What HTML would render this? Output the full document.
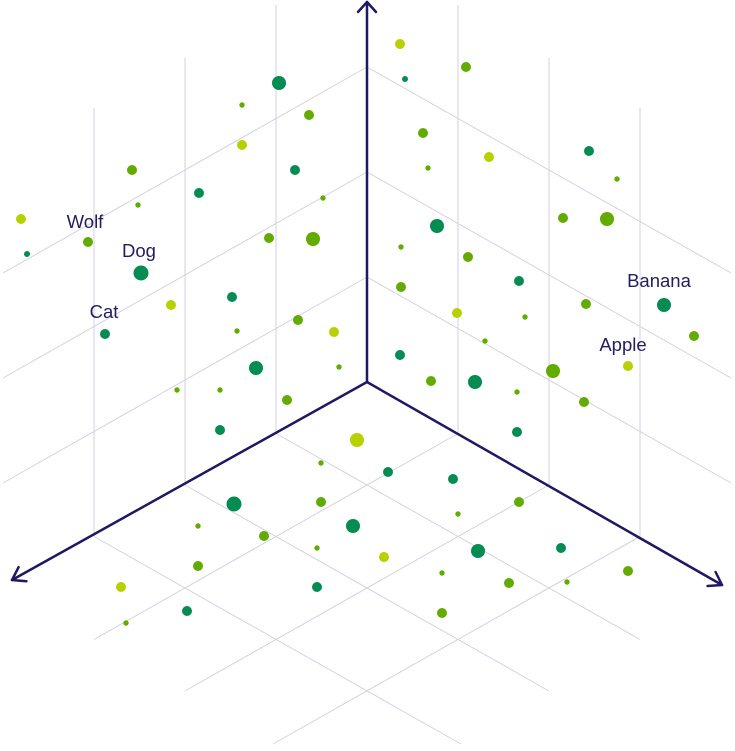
<!DOCTYPE html>
<html><head><meta charset="utf-8"><style>
html,body{margin:0;padding:0;background:#fff;}
svg{display:block;}
text{font-family:"Liberation Sans",sans-serif;font-size:18.5px;fill:#231d5e;text-anchor:middle;}
</style></head><body>
<svg width="735" height="751" viewBox="0 0 735 751" xmlns="http://www.w3.org/2000/svg">
<g stroke="#d3d2e4" stroke-width="1" fill="none">
<line x1="276" y1="433.5" x2="276" y2="5"/>
<line x1="185" y1="485" x2="185" y2="58"/>
<line x1="94" y1="536.5" x2="94" y2="108"/>
<line x1="458" y1="433.5" x2="458" y2="5"/>
<line x1="549" y1="485" x2="549" y2="58"/>
<line x1="640" y1="536.5" x2="640" y2="108"/>
<line x1="367" y1="277" x2="3" y2="483"/>
<line x1="367" y1="172" x2="3" y2="378"/>
<line x1="367" y1="67" x2="3" y2="273"/>
<line x1="367" y1="277" x2="731" y2="483"/>
<line x1="367" y1="172" x2="731" y2="378"/>
<line x1="367" y1="67" x2="731" y2="273"/>
<line x1="276" y1="433.5" x2="640" y2="639.5"/>
<line x1="185" y1="485" x2="549" y2="691"/>
<line x1="94" y1="536.5" x2="461" y2="744"/>
<line x1="458" y1="433.5" x2="94" y2="639.5"/>
<line x1="549" y1="485" x2="185" y2="691"/>
<line x1="640" y1="536.5" x2="273" y2="744"/>
</g>
<g stroke="#1f1862" stroke-width="2.5" fill="none" stroke-linecap="round" stroke-linejoin="round">
<line x1="367" y1="382" x2="367" y2="2"/>
<polyline points="358,12 367,2 376,12"/>
<line x1="367" y1="382" x2="12" y2="580"/>
<polyline points="18.6,567.2 12,580 26.4,581.2"/>
<line x1="367" y1="382" x2="722" y2="585"/>
<polyline points="715.6,572 722,585 707.6,586"/>
</g>
<g>
<circle cx="400" cy="44" r="5" fill="#b7d100"/>
<circle cx="466" cy="67" r="5" fill="#63ab00"/>
<circle cx="405" cy="79" r="3" fill="#058c52"/>
<circle cx="279" cy="83" r="7" fill="#058c52"/>
<circle cx="242" cy="105" r="2.7" fill="#63ab00"/>
<circle cx="309" cy="115" r="5" fill="#63ab00"/>
<circle cx="423" cy="133" r="5" fill="#63ab00"/>
<circle cx="242" cy="145" r="5" fill="#b7d100"/>
<circle cx="489" cy="157" r="5" fill="#b7d100"/>
<circle cx="589" cy="151" r="5" fill="#058c52"/>
<circle cx="132" cy="170" r="5" fill="#63ab00"/>
<circle cx="295" cy="170" r="5" fill="#058c52"/>
<circle cx="428" cy="168" r="2.7" fill="#63ab00"/>
<circle cx="617" cy="179" r="2.7" fill="#63ab00"/>
<circle cx="199" cy="193" r="5" fill="#058c52"/>
<circle cx="323" cy="198" r="2.7" fill="#63ab00"/>
<circle cx="138" cy="205" r="2.7" fill="#63ab00"/>
<circle cx="21" cy="219" r="5" fill="#b7d100"/>
<circle cx="88" cy="242" r="5" fill="#63ab00"/>
<circle cx="27" cy="254" r="3" fill="#058c52"/>
<circle cx="437" cy="226" r="7" fill="#058c52"/>
<circle cx="563" cy="218" r="5" fill="#63ab00"/>
<circle cx="607" cy="219" r="7" fill="#63ab00"/>
<circle cx="269" cy="238" r="5" fill="#63ab00"/>
<circle cx="313" cy="239" r="7" fill="#63ab00"/>
<circle cx="401" cy="247" r="2.7" fill="#63ab00"/>
<circle cx="468" cy="257" r="5" fill="#63ab00"/>
<circle cx="141" cy="273" r="7.5" fill="#058c52"/>
<circle cx="519" cy="281" r="5" fill="#058c52"/>
<circle cx="232" cy="297" r="5" fill="#058c52"/>
<circle cx="171" cy="305" r="5" fill="#b7d100"/>
<circle cx="401" cy="287" r="5" fill="#63ab00"/>
<circle cx="586" cy="304" r="5" fill="#63ab00"/>
<circle cx="664" cy="305" r="7" fill="#058c52"/>
<circle cx="457" cy="313" r="5" fill="#b7d100"/>
<circle cx="525" cy="317" r="2.7" fill="#63ab00"/>
<circle cx="298" cy="320" r="5" fill="#63ab00"/>
<circle cx="105" cy="334" r="5" fill="#058c52"/>
<circle cx="237" cy="331" r="2.7" fill="#63ab00"/>
<circle cx="334" cy="332" r="5" fill="#b7d100"/>
<circle cx="694" cy="336" r="5" fill="#63ab00"/>
<circle cx="485" cy="341" r="2.7" fill="#63ab00"/>
<circle cx="400" cy="355" r="5" fill="#058c52"/>
<circle cx="339" cy="367" r="2.7" fill="#63ab00"/>
<circle cx="256" cy="368" r="7" fill="#058c52"/>
<circle cx="553" cy="371" r="7" fill="#63ab00"/>
<circle cx="628" cy="366" r="5" fill="#b7d100"/>
<circle cx="431" cy="381" r="5" fill="#63ab00"/>
<circle cx="475" cy="382" r="7" fill="#058c52"/>
<circle cx="177" cy="390" r="2.7" fill="#63ab00"/>
<circle cx="220" cy="390" r="2.7" fill="#63ab00"/>
<circle cx="517" cy="392" r="2.7" fill="#63ab00"/>
<circle cx="287" cy="400" r="5" fill="#63ab00"/>
<circle cx="584" cy="402" r="5" fill="#63ab00"/>
<circle cx="220" cy="430" r="5" fill="#058c52"/>
<circle cx="517" cy="432" r="5" fill="#058c52"/>
<circle cx="357" cy="440" r="7" fill="#b7d100"/>
<circle cx="321" cy="463" r="2.7" fill="#63ab00"/>
<circle cx="388" cy="472" r="5" fill="#058c52"/>
<circle cx="453" cy="479" r="5" fill="#058c52"/>
<circle cx="234" cy="504" r="7.5" fill="#058c52"/>
<circle cx="321" cy="502" r="5" fill="#63ab00"/>
<circle cx="519" cy="502" r="5" fill="#63ab00"/>
<circle cx="458" cy="514" r="2.7" fill="#63ab00"/>
<circle cx="353" cy="526" r="7" fill="#058c52"/>
<circle cx="198" cy="526" r="2.7" fill="#63ab00"/>
<circle cx="264" cy="536" r="5" fill="#63ab00"/>
<circle cx="317" cy="548" r="2.7" fill="#63ab00"/>
<circle cx="384" cy="557" r="5" fill="#b7d100"/>
<circle cx="478" cy="551" r="7" fill="#058c52"/>
<circle cx="561" cy="548" r="5" fill="#058c52"/>
<circle cx="198" cy="566" r="5" fill="#63ab00"/>
<circle cx="442" cy="573" r="2.7" fill="#63ab00"/>
<circle cx="628" cy="571" r="5" fill="#63ab00"/>
<circle cx="509" cy="583" r="5" fill="#63ab00"/>
<circle cx="567" cy="582" r="2.7" fill="#63ab00"/>
<circle cx="121" cy="587" r="5" fill="#b7d100"/>
<circle cx="317" cy="587" r="5" fill="#058c52"/>
<circle cx="187" cy="611" r="5" fill="#058c52"/>
<circle cx="442" cy="613" r="5" fill="#63ab00"/>
<circle cx="126" cy="623" r="2.7" fill="#63ab00"/>
</g>
<text x="85" y="228">Wolf</text>
<text x="139" y="257">Dog</text>
<text x="104" y="318">Cat</text>
<text x="659" y="287">Banana</text>
<text x="623" y="351">Apple</text>
</svg>
</body></html>
